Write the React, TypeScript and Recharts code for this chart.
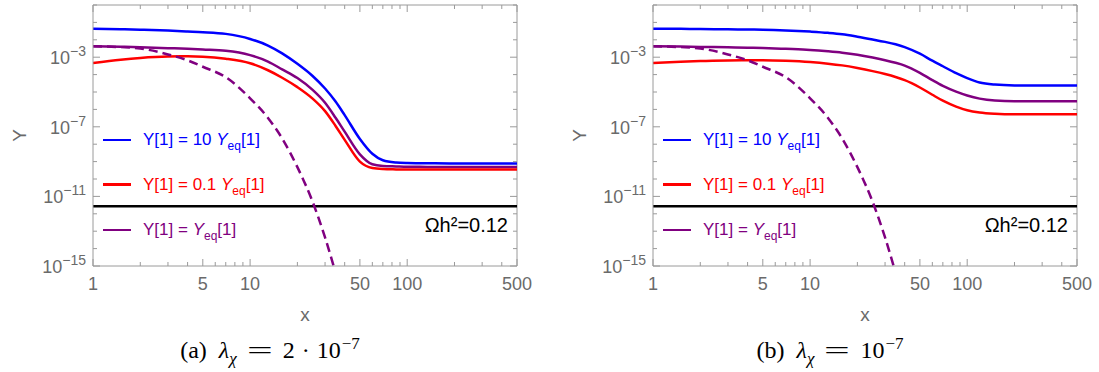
import { LineChart, Line, XAxis, YAxis, ReferenceLine, Legend } from 'recharts';

// sample points along x (shared by every curve)
const xs = [1, 1.5, 2, 3, 4, 5, 7, 10, 13, 16, 20, 25, 30, 35, 40, 50, 60, 70, 85, 100, 120, 150, 200, 300, 500];

// log10 Y for lambda = 2e-7
const blueA = [-1.36, -1.39, -1.42, -1.47, -1.52, -1.56, -1.66, -1.95, -2.33, -2.78, -3.38, -4.08, -4.8, -5.55, -6.33, -7.7, -8.55, -8.92, -9.05, -9.08, -9.09, -9.1, -9.11, -9.11, -9.11];
const purpleA = [-2.37, -2.4, -2.43, -2.48, -2.52, -2.56, -2.63, -2.88, -3.25, -3.7, -4.2, -4.88, -5.62, -6.48, -7.28, -8.58, -9.15, -9.25, -9.28, -9.3, -9.3, -9.31, -9.31, -9.31, -9.31];
const redA = [-3.33, -3.14, -3.04, -2.96, -2.95, -2.97, -3.09, -3.35, -3.75, -4.18, -4.72, -5.38, -6.1, -6.95, -7.75, -9.0, -9.37, -9.43, -9.45, -9.46, -9.46, -9.46, -9.46, -9.46, -9.46];

// log10 Y for lambda = 1e-7
const blueB = [-1.36, -1.37, -1.38, -1.4, -1.41, -1.42, -1.46, -1.53, -1.6, -1.68, -1.82, -1.98, -2.12, -2.26, -2.42, -2.8, -3.2, -3.52, -3.92, -4.2, -4.45, -4.57, -4.62, -4.63, -4.63];
const purpleB = [-2.37, -2.39, -2.41, -2.43, -2.45, -2.47, -2.52, -2.58, -2.66, -2.74, -2.86, -3.02, -3.17, -3.32, -3.48, -3.9, -4.32, -4.65, -4.98, -5.2, -5.38, -5.49, -5.53, -5.53, -5.53];
const redB = [-3.33, -3.26, -3.22, -3.19, -3.18, -3.18, -3.21, -3.28, -3.37, -3.47, -3.62, -3.8, -3.97, -4.14, -4.32, -4.74, -5.16, -5.5, -5.84, -6.05, -6.18, -6.25, -6.28, -6.28, -6.28];

// log10 Y_eq, stops once it has left the frame
const eqCurve = [-2.37, -2.42, -2.5, -2.84, -3.18, -3.55, -4.15, -5.36, -6.49, -7.67, -9.32, -11.31, -13.36, -15.39];

// relic abundance for Omega h^2 = 0.12
const relicY = 2.7e-12;

const xTicks = [1, 2, 3, 4, 5, 6, 7, 8, 9, 10, 20, 30, 40, 50, 60, 70, 80, 90, 100, 200, 300, 400, 500];
const xMajor = [1, 5, 10, 50, 100, 500];
const yTicks = [1, 1e-1, 1e-2, 1e-3, 1e-4, 1e-5, 1e-6, 1e-7, 1e-8, 1e-9, 1e-10, 1e-11, 1e-12, 1e-13, 1e-14, 1e-15];
const yMajor = [1e-3, 1e-7, 1e-11, 1e-15];

const BLUE = '#0000ff';
const RED = '#ff0000';
const PURPLE = '#800080';
const FRAME = '#9a9a9a';
const TICK_TEXT = '#6a6a6a';
const SANS = '"Liberation Sans", Arial, sans-serif';
const SERIF = '"Liberation Serif", "Times New Roman", serif';

const W = 540;
const H = 372;
const MARGIN = { top: 5, right: 23, bottom: 76, left: 33 };
const X_AXIS_H = 30;
const Y_AXIS_W = 60;
const LEFT = MARGIN.left + Y_AXIS_W;
const RIGHT = W - MARGIN.right;
const TOP = MARGIN.top;
const BOTTOM = H - MARGIN.bottom - X_AXIS_H;

const XTick = ({ x, payload }: any) => {
    const major = xMajor.includes(payload.value);
    const len = major ? 7 : 4;
    return (
        <g>
            <line x1={x} x2={x} y1={BOTTOM} y2={BOTTOM - len} stroke={FRAME} />
            <line x1={x} x2={x} y1={TOP} y2={TOP + len} stroke={FRAME} />
            {major && (
                <text x={x} y={290} textAnchor="middle" fill={TICK_TEXT} fontSize={18} fontFamily={SANS}>
                    {payload.value}
                </text>
            )}
        </g>
    );
};

const YTick = ({ y, payload }: any) => {
    const major = yMajor.includes(payload.value);
    const len = major ? 7 : 4;
    const exp = Math.round(Math.log10(payload.value));
    return (
        <g>
            <line x1={LEFT} x2={LEFT + len} y1={y} y2={y} stroke={FRAME} />
            <line x1={RIGHT} x2={RIGHT - len} y1={y} y2={y} stroke={FRAME} />
            {major && (
                <text x={LEFT - 7} y={y + 7} textAnchor="end" fill={TICK_TEXT} fontSize={18} fontFamily={SANS}>
                    10
                    <tspan dy={-8} fontSize={14}>{'\u2212' + Math.abs(exp)}</tspan>
                </text>
            )}
        </g>
    );
};

const XTitle = () => (
    <text x={(LEFT + RIGHT) / 2} y={321} textAnchor="middle" fill={TICK_TEXT} fontSize={19} fontFamily={SANS}>
        x
    </text>
);

const YTitle = () => (
    <text
        x={26}
        y={(TOP + BOTTOM) / 2}
        textAnchor="middle"
        fill={TICK_TEXT}
        fontSize={19}
        fontFamily={SANS}
        transform={`rotate(-90, 26, ${(TOP + BOTTOM) / 2})`}
    >
        Y
    </text>
);

const OmegaLabel = ({ viewBox }: any) => (
    <text
        x={viewBox.x + viewBox.width - 9}
        y={viewBox.y + 26}
        textAnchor="end"
        fill="#000"
        fontSize={20}
        fontFamily={SANS}
    >
        Ωh²=0.12
    </text>
);

const legendRows = [
    { color: BLUE, factor: '10 ', top: 140 },
    { color: RED, factor: '0.1 ', top: 184.5 },
    { color: PURPLE, factor: '', top: 230 },
];

const InsetLegend = () => (
    <div style={{ position: 'relative', fontFamily: SANS, fontSize: 17 }}>
        {legendRows.map((r) => (
            <div
                key={r.color}
                style={{
                    position: 'absolute',
                    left: 0,
                    top: r.top - 12,
                    height: 24,
                    display: 'flex',
                    alignItems: 'center',
                    whiteSpace: 'nowrap',
                    color: r.color,
                }}
            >
                <div style={{ width: 28, height: 2.5, background: r.color, marginRight: 12 }} />
                <span>
                    Y[1] = {r.factor}
                    <i>Y</i>
                    <span style={{ fontSize: 12, position: 'relative', top: 5 }}>eq</span>
                    [1]
                </span>
            </div>
        ))}
    </div>
);

interface PanelProps {
    blue: number[];
    red: number[];
    purple: number[];
    left: number;
    caption: React.ReactNode;
}

function Panel({ blue, red, purple, left, caption }: PanelProps) {
    const data = xs.map((x, i) => ({
        x,
        blue: 10 ** blue[i],
        red: 10 ** red[i],
        purple: 10 ** purple[i],
        eq: i < eqCurve.length ? 10 ** eqCurve[i] : null,
    }));

    return (
        <div style={{ position: 'absolute', left, top: 0, width: W, height: H }}>
            <LineChart width={W} height={H} data={data} margin={MARGIN}>
                <XAxis
                    dataKey="x"
                    type="number"
                    scale="log"
                    domain={[1, 500]}
                    allowDataOverflow
                    ticks={xTicks}
                    interval={0}
                    height={X_AXIS_H}
                    tickLine={false}
                    axisLine={{ stroke: FRAME }}
                    tick={<XTick />}
                    label={<XTitle />}
                />
                <YAxis
                    type="number"
                    scale="log"
                    domain={[1e-15, 1]}
                    allowDataOverflow
                    ticks={yTicks}
                    interval={0}
                    width={Y_AXIS_W}
                    tickLine={false}
                    axisLine={{ stroke: FRAME }}
                    tick={<YTick />}
                    label={<YTitle />}
                />
                <ReferenceLine y={1} stroke={FRAME} />
                <ReferenceLine x={500} stroke={FRAME} />
                <ReferenceLine y={relicY} stroke="#000" strokeWidth={2.5} label={<OmegaLabel />} />

                <Legend
                    layout="horizontal"
                    verticalAlign="middle"
                    align="center"
                    wrapperStyle={{ left: 103, top: 0, width: 300, height: 0 }}
                    content={() => <InsetLegend />}
                />

                <Line dataKey="blue" stroke={BLUE} strokeWidth={2.5} dot={false} type="monotone" isAnimationActive={false} />
                <Line dataKey="purple" stroke={PURPLE} strokeWidth={2.5} dot={false} type="monotone" isAnimationActive={false} />
                <Line dataKey="red" stroke={RED} strokeWidth={2.5} dot={false} type="monotone" isAnimationActive={false} />
                <Line
                    dataKey="eq"
                    stroke={PURPLE}
                    strokeWidth={2.5}
                    strokeDasharray="9 5"
                    dot={false}
                    type="monotone"
                    isAnimationActive={false}
                />
            </LineChart>
            <div
                style={{
                    position: 'absolute',
                    left: 0,
                    top: 338,
                    width: W,
                    textAlign: 'center',
                    fontFamily: SERIF,
                    fontSize: 24,
                    lineHeight: '24px',
                    whiteSpace: 'nowrap',
                    color: '#000',
                }}
            >
                {caption}
            </div>
        </div>
    );
}

const sup = { fontSize: 17, position: 'relative', top: -9, marginLeft: 1 } as const;
const sub = { fontSize: 17, position: 'relative', top: 6 } as const;
const wideEq = {
    display: 'inline-block',
    width: 28,
    margin: '0 9px',
    textAlign: 'center',
    transform: 'scaleX(1.9)',
} as const;

const LambdaChi = () => (
    <>
        <i style={{ marginLeft: 12 }}>λ</i>
        <i style={sub}>χ</i>
        <span style={wideEq}>=</span>
    </>
);

export default function App() {
    return (
        <div style={{ position: 'absolute', left: 0, top: 0, width: 1099, height: 372, background: '#fff' }}>
            <Panel
                blue={blueA}
                red={redA}
                purple={purpleA}
                left={0}
                caption={
                    <>
                        <span>(a)</span>
                        <LambdaChi />
                        <span>2</span>
                        <span style={{ margin: '0 7px' }}>·</span>
                        <span>10</span>
                        <span style={sup}>−7</span>
                    </>
                }
            />
            <Panel
                blue={blueB}
                red={redB}
                purple={purpleB}
                left={560}
                caption={
                    <>
                        <span>(b)</span>
                        <LambdaChi />
                        <span>10</span>
                        <span style={sup}>−7</span>
                    </>
                }
            />
        </div>
    );
}
